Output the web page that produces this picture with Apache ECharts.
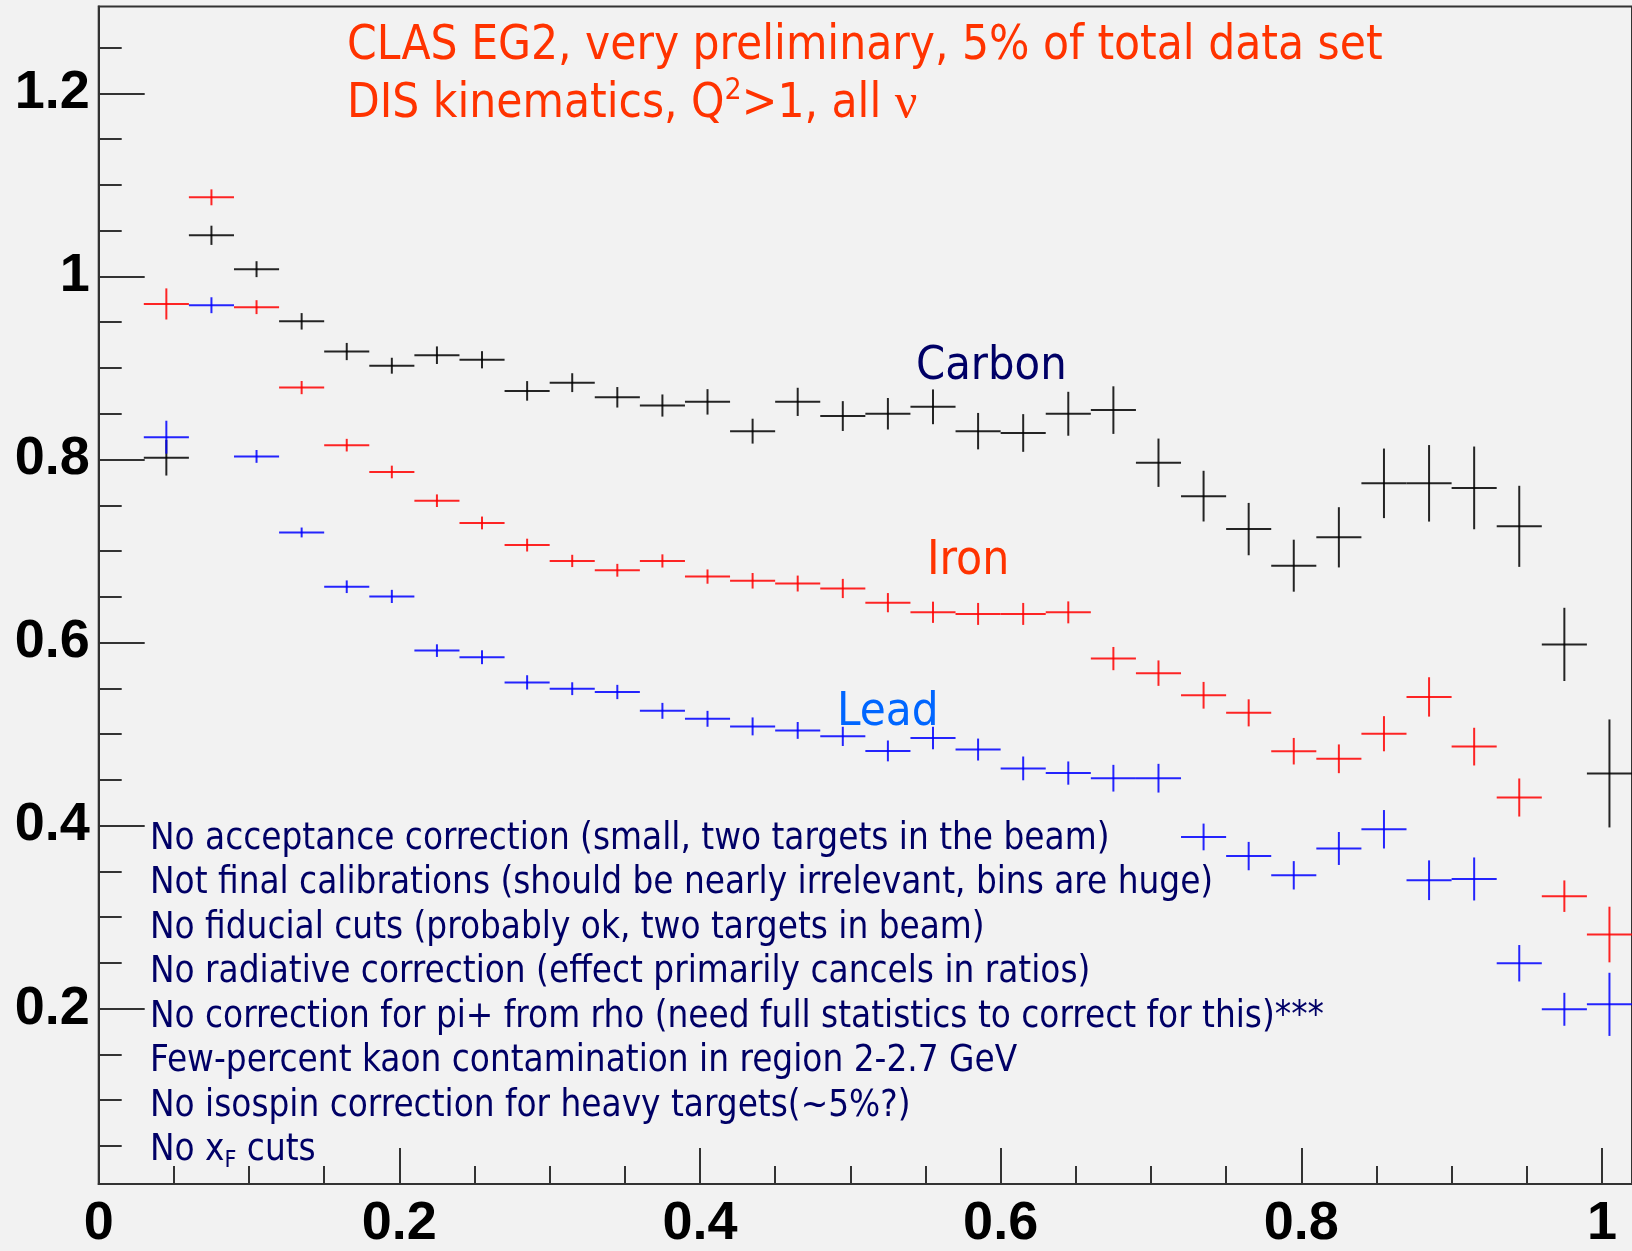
<!DOCTYPE html>
<html>
<head>
<meta charset="utf-8">
<script src="https://cdn.jsdelivr.net/npm/echarts@6/dist/echarts.min.js"></script>
<style>
  html, body { margin: 0; padding: 0; background: #f2f2f2; }
  #chart { width: 1632px; height: 1251px; }
</style>
</head>
<body>
<div id="chart"></div>
<script>
// Bin centres (bins of width 0.03 from 0.03 to 1.02)
const xCenters = [0.045, 0.075, 0.105, 0.135, 0.165, 0.195, 0.225, 0.255, 0.285, 0.315,
  0.345, 0.375, 0.405, 0.435, 0.465, 0.495, 0.525, 0.555, 0.585, 0.615,
  0.645, 0.675, 0.705, 0.735, 0.765, 0.795, 0.825, 0.855, 0.885, 0.915,
  0.945, 0.975, 1.005];
const binHalfWidth = 0.015;

// Multiplicity ratios and their statistical errors
const carbon = [0.802, 1.045, 1.008, 0.951, 0.918, 0.9025, 0.914, 0.909, 0.875, 0.884,
  0.868, 0.859, 0.863, 0.831, 0.863, 0.8475, 0.850, 0.8576, 0.831, 0.829,
  0.850, 0.854, 0.7965, 0.760, 0.724, 0.684, 0.715, 0.774, 0.774, 0.769,
  0.727, 0.598, 0.457];
const carbonErr = [0.0195, 0.0105, 0.0087, 0.009, 0.0094, 0.0087, 0.0096, 0.0094, 0.0107, 0.0103,
  0.0112, 0.0121, 0.0139, 0.0136, 0.0154, 0.0163, 0.0172, 0.019, 0.0199, 0.0206,
  0.024, 0.026, 0.0264, 0.0277, 0.0286, 0.0284, 0.0329, 0.038, 0.0418, 0.0452,
  0.0443, 0.040, 0.059];

const iron = [0.970, 1.0865, 0.9665, 0.8786, 0.8157, 0.7864, 0.755, 0.7307, 0.7065, 0.6892,
  0.679, 0.6892, 0.6721, 0.6675, 0.6645, 0.6591, 0.6436, 0.6331, 0.6313, 0.6313,
  0.633, 0.5825, 0.5666, 0.5424, 0.5232, 0.4813, 0.473, 0.5004, 0.5406, 0.4863,
  0.4307, 0.3229, 0.281];
const ironErr = [0.017, 0.0087, 0.0076, 0.0072, 0.0069, 0.0069, 0.0069, 0.007, 0.007, 0.0067,
  0.007, 0.0072, 0.0078, 0.0085, 0.0087, 0.0105, 0.0105, 0.0116, 0.012, 0.012,
  0.012, 0.0127, 0.0139, 0.0146, 0.0148, 0.0145, 0.0157, 0.0192, 0.0215, 0.0206,
  0.0208, 0.0172, 0.0304];

const lead = [0.8244, 0.9686, 0.8034, 0.7203, 0.661, 0.6504, 0.5912, 0.584, 0.5565, 0.5496,
  0.546, 0.5254, 0.5167, 0.5084, 0.504, 0.4975, 0.4816, 0.4957, 0.4831, 0.4625,
  0.4574, 0.4518, 0.4518, 0.3876, 0.3667, 0.3457, 0.375, 0.396, 0.3403, 0.3417,
  0.2496, 0.1993, 0.2047];
const leadErr = [0.018, 0.0087, 0.007, 0.0054, 0.0069, 0.0072, 0.0069, 0.0076, 0.0078, 0.007,
  0.0078, 0.0087, 0.0087, 0.0098, 0.0092, 0.0105, 0.0114, 0.0123, 0.012, 0.013,
  0.0127, 0.0146, 0.0157, 0.0146, 0.0155, 0.0155, 0.018, 0.021, 0.0217, 0.0235,
  0.0199, 0.018, 0.0345];

// Axis ticks and labels
const xMajorTicks = [0, 0.2, 0.4, 0.6, 0.8, 1];
const xMinorTicks = [0.05, 0.1, 0.15, 0.25, 0.3, 0.35, 0.45, 0.5, 0.55, 0.65, 0.7, 0.75, 0.85, 0.9, 0.95];
const yMajorTicks = [0.2, 0.4, 0.6, 0.8, 1, 1.2];
const yMinorTicks = [0.05, 0.1, 0.15, 0.25, 0.3, 0.35, 0.45, 0.5, 0.55, 0.65, 0.7, 0.75,
  0.85, 0.9, 0.95, 1.05, 1.1, 1.15, 1.25];

const titleLines = ['CLAS EG2, very preliminary, 5% of total data set'];
const notes = [
  'No acceptance correction (small, two targets in the beam)',
  'Not final calibrations (should be nearly irrelevant, bins are huge)',
  'No fiducial cuts (probably ok, two targets in beam)',
  'No radiative correction (effect primarily cancels in ratios)',
  'No correction for pi+ from rho (need full statistics to correct for this)***',
  'Few-percent kaon contamination in region 2-2.7 GeV',
  'No isospin correction for heavy targets(~5%?)'
];

const TEXT_FONT = '"DejaVu Sans Condensed", "DejaVu Sans", sans-serif';
const AXIS_FONT = '"Liberation Sans", Arial, sans-serif';

function crossSeries(name, values, errors, color) {
  return {
    name: name,
    type: 'custom',
    xAxisIndex: 0,
    yAxisIndex: 0,
    data: xCenters.map((x, i) => [x, values[i], errors[i]]),
    encode: { x: 0, y: 1 },
    clip: false,
    renderItem: function (params, api) {
      const x = api.value(0), y = api.value(1), e = api.value(2);
      const l = api.coord([x - binHalfWidth, y]);
      const r = api.coord([x + binHalfWidth, y]);
      const t = api.coord([x, y + e]);
      const b = api.coord([x, y - e]);
      const st = { stroke: color, lineWidth: 2, opacity: 0.85 };
      return {
        type: 'group',
        children: [
          { type: 'line', shape: { x1: l[0], y1: l[1], x2: r[0], y2: r[1] }, style: st },
          { type: 'line', shape: { x1: t[0], y1: t[1], x2: b[0], y2: b[1] }, style: st }
        ]
      };
    }
  };
}

const chart = echarts.init(document.getElementById('chart'), null, { renderer: 'canvas' });

const axisLineStyle = { color: '#333', width: 2 };
const X_MIN = 0, X_MAX = 1.02, Y_MIN = 0.0084, Y_MAX = 1.295;

const graphics = [];
graphics.push({
  type: 'text', x: 347, y: 47,
  style: { text: titleLines[0], fill: '#ff3300', fontSize: 47.3, fontFamily: TEXT_FONT, verticalAlign: 'middle', align: 'left' }
});
graphics.push({
  type: 'text', x: 347, y: 105,
  style: {
    text: '{a|DIS kinematics, Q}{s|2}{a|>1, all }{nu|ν}',
    verticalAlign: 'middle', align: 'left', fill: '#ff3300',
    rich: {
      a: { fontSize: 47.3, fontFamily: TEXT_FONT, fill: '#ff3300', lineHeight: 58 },
      s: { fontSize: 30, fontFamily: TEXT_FONT, fill: '#ff3300', lineHeight: 40, verticalAlign: 'top' },
      nu: { fontSize: 50, fontFamily: '"Liberation Serif", serif', fill: '#ff3300', lineHeight: 58 }
    }
  }
});
// Target labels
graphics.push({ type: 'text', x: 916, y: 367, style: { text: 'Carbon', fill: '#000066', fontSize: 46.5, fontFamily: TEXT_FONT, verticalAlign: 'middle' } });
graphics.push({ type: 'text', x: 927, y: 562, style: { text: 'Iron', fill: '#ff3300', fontSize: 47.5, fontFamily: TEXT_FONT, verticalAlign: 'middle' } });
graphics.push({ type: 'text', x: 837, y: 713, style: { text: 'Lead', fill: '#0066ff', fontSize: 47, fontFamily: TEXT_FONT, verticalAlign: 'middle' } });
// Caveat list
const NOTE_X = 150, NOTE_Y0 = 839.5, NOTE_STEP = 44.45;
notes.forEach((t, i) => {
  graphics.push({
    type: 'text', x: NOTE_X, y: NOTE_Y0 + i * NOTE_STEP,
    style: { text: t, fill: '#000066', fontSize: 36.5, fontFamily: TEXT_FONT, verticalAlign: 'middle' }
  });
});
graphics.push({
  type: 'text', x: NOTE_X, y: NOTE_Y0 + notes.length * NOTE_STEP,
  style: {
    text: '{n|No x}{s|F}{n| cuts}', verticalAlign: 'middle', fill: '#000066',
    rich: {
      n: { fontSize: 36.5, fontFamily: TEXT_FONT, fill: '#000066', lineHeight: 44 },
      s: { fontSize: 23, fontFamily: TEXT_FONT, fill: '#000066', lineHeight: 9, verticalAlign: 'bottom' }
    }
  }
});

chart.setOption({
  backgroundColor: '#f2f2f2',
  animation: false,
  grid: {
    left: 98.7, top: 6.5, width: 1536, height: 1186.2,
    show: true, borderColor: '#333', borderWidth: 2, backgroundColor: 'transparent',
    containLabel: false
  },
  xAxis: [
    {
      type: 'value', min: X_MIN, max: X_MAX, position: 'bottom',
      axisLine: { show: true, onZero: false, lineStyle: axisLineStyle },
      axisTick: { show: true, inside: true, length: 36, customValues: xMajorTicks, lineStyle: axisLineStyle },
      axisLabel: { show: true, customValues: xMajorTicks, margin: 13, color: '#000', fontSize: 54, fontWeight: 'bold', fontFamily: AXIS_FONT },
      splitLine: { show: false }
    },
    {
      type: 'value', min: X_MIN, max: X_MAX, position: 'bottom',
      axisLine: { show: false, onZero: false },
      axisTick: { show: true, inside: true, length: 18, customValues: xMinorTicks, lineStyle: axisLineStyle },
      axisLabel: { show: false },
      splitLine: { show: false }
    }
  ],
  yAxis: [
    {
      type: 'value', min: Y_MIN, max: Y_MAX, position: 'left',
      axisLine: { show: true, onZero: false, lineStyle: axisLineStyle },
      axisTick: { show: true, inside: true, length: 46, customValues: yMajorTicks, lineStyle: axisLineStyle },
      axisLabel: { show: true, customValues: yMajorTicks, margin: 9, color: '#000', fontSize: 54, fontWeight: 'bold', fontFamily: AXIS_FONT },
      splitLine: { show: false }
    },
    {
      type: 'value', min: Y_MIN, max: Y_MAX, position: 'left',
      axisLine: { show: false, onZero: false },
      axisTick: { show: true, inside: true, length: 23, customValues: yMinorTicks, lineStyle: axisLineStyle },
      axisLabel: { show: false },
      splitLine: { show: false }
    }
  ],
  series: [
    crossSeries('Carbon', carbon, carbonErr, '#000000'),
    crossSeries('Iron', iron, ironErr, '#ff0000'),
    crossSeries('Lead', lead, leadErr, '#0000ff')
  ],
  graphic: graphics
});
</script>
</body>
</html>
